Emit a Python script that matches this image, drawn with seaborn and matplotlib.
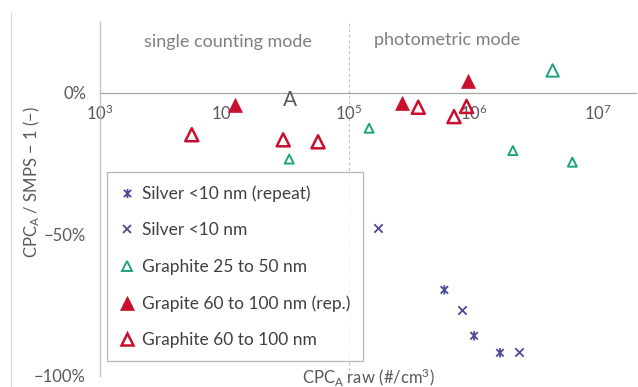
import numpy as np
import pandas as pd
import seaborn as sns
import matplotlib
matplotlib.use("Agg")
import matplotlib.pyplot as plt
from matplotlib.path import Path
from matplotlib.lines import Line2D
from matplotlib.ticker import FixedLocator, LogLocator, NullFormatter

# ---- data: raw CPC_A concentration (#/cm3) and relative deviation CPC_A/SMPS - 1
silver_rep_x = [5.83e5, 1.01e6, 1.63e6]
silver_rep_y = [-0.696, -0.858, -0.918]

silver_x = [1.70e5, 8.13e5, 2.32e6]
silver_y = [-0.478, -0.767, -0.916]

graphite_small_x = [3.31e4, 1.45e5, 2.07e6, 4.32e6, 6.22e6]
graphite_small_y = [-0.234, -0.125, -0.204, 0.079, -0.245]
graphite_small_s = [42, 42, 42, 80, 42]

graphite_large_rep_x = [1.21e4, 2.65e5, 9.08e5]
graphite_large_rep_y = [-0.042, -0.036, 0.040]

graphite_large_x = [5.46e3, 2.96e4, 5.64e4, 3.60e5, 6.97e5, 8.80e5]
graphite_large_y = [-0.148, -0.166, -0.173, -0.051, -0.084, -0.048]

series_labels = ["Silver <10 nm (repeat)", "Silver <10 nm", "Graphite 25 to 50 nm",
                 "Grapite 60 to 100 nm (rep.)", "Graphite 60 to 100 nm"]

y_major = [0.0, -0.5, -1.0]
y_major_labels = ["0%", "\u221250%", "\u2212100%"]

mode_labels = ["single counting mode", "photometric mode"]

# ---- styling
sns.set_theme(style="white")
plt.rcParams["font.family"] = ["Lato", "DejaVu Sans"]
plt.rcParams["mathtext.fontset"] = "custom"
plt.rcParams["mathtext.rm"] = "Lato"
plt.rcParams["mathtext.it"] = "Lato:italic"

GRAY_TXT = "#595959"
AXIS_GRAY = "#A6A6A6"
SILVER = "#4B4B98"
GREEN = "#1FA37A"
RED = "#C8102E"

# asterisk-like marker: an x crossed by a vertical stroke
star_path = Path(
    [(-1, -1), (1, 1), (-1, 1), (1, -1), (0, -1.25), (0, 1.25)],
    [Path.MOVETO, Path.LINETO, Path.MOVETO, Path.LINETO, Path.MOVETO, Path.LINETO],
)

fig = plt.figure(figsize=(6.38, 3.87), dpi=100)
ax = fig.add_axes([100 / 638, 11 / 387, 536 / 638, 354 / 387])

ax.axvline(1e5, color="#BFBFBF", lw=0.8, ls=(0, (2.5, 2.5)), zorder=0)

sns.scatterplot(x=silver_rep_x, y=silver_rep_y, marker=star_path, s=45,
                facecolor="none", edgecolor=SILVER, linewidth=1.3, ax=ax, zorder=3)
sns.scatterplot(x=silver_x, y=silver_y, marker="x", s=36,
                color=SILVER, linewidth=1.3, ax=ax, zorder=3)
sns.scatterplot(x=graphite_small_x, y=graphite_small_y, marker="^", s=graphite_small_s,
                facecolor="none", edgecolor=GREEN, linewidth=1.4, ax=ax, zorder=3)
sns.scatterplot(x=graphite_large_rep_x, y=graphite_large_rep_y, marker="^", s=100,
                color=RED, edgecolor=RED, linewidth=0.5, ax=ax, zorder=3)
sns.scatterplot(x=graphite_large_x, y=graphite_large_y, marker="^", s=88,
                facecolor="none", edgecolor=RED, linewidth=1.8, ax=ax, zorder=3)

ax.set_xscale("log")
ax.set_xlim(1e3, 10 ** 7.305)
ax.set_ylim(-1.0, 0.25)

for side in ["top", "right"]:
    ax.spines[side].set_visible(False)
ax.spines["bottom"].set_position(("data", 0))
ax.spines["bottom"].set_color(AXIS_GRAY)
ax.spines["left"].set_color("#BFBFBF")
for sp in ax.spines.values():
    sp.set_linewidth(0.9)

ax.xaxis.set_major_locator(LogLocator(base=10, numticks=10))
ax.xaxis.set_minor_locator(LogLocator(base=10, subs=np.arange(2, 10), numticks=20))
ax.xaxis.set_minor_formatter(NullFormatter())
ax.yaxis.set_major_locator(FixedLocator(y_major))
ax.set_yticklabels(y_major_labels)
ax.yaxis.set_minor_locator(FixedLocator(np.round(np.arange(-1.0, 0.25, 0.1), 2)))

ax.tick_params(axis="x", which="major", direction="inout", length=10, width=0.9,
               color=AXIS_GRAY, labelsize=12, labelcolor=GRAY_TXT, pad=3)
ax.tick_params(axis="x", which="minor", direction="inout", length=6, width=0.8,
               color=AXIS_GRAY)
ax.tick_params(axis="y", which="major", direction="inout", length=10, width=0.9,
               color="#BFBFBF", labelsize=12, labelcolor=GRAY_TXT, pad=5)
ax.tick_params(axis="y", which="minor", direction="inout", length=8, width=0.8,
               color="#D0D0D0")

ax.set_ylabel("CPC$_\\mathrm{A}$ / SMPS \u2212 1 (\u2212)", fontsize=12, color=GRAY_TXT)
ax.yaxis.set_label_coords(-0.128, 0.548)
ax.yaxis.label.set_va("center")
ax.set_xlabel(r"CPC$_\mathrm{A}$ raw (#/cm$^\mathrm{3}$)", fontsize=12, color=GRAY_TXT)
ax.xaxis.set_label_coords(0.5, -0.004)
ax.xaxis.label.set_va("center")

ax.text(0.239, 0.943, mode_labels[0], transform=ax.transAxes, ha="center", va="center",
        fontsize=13, color="#7F7F7F")
ax.text(0.647, 0.949, mode_labels[1], transform=ax.transAxes, ha="center", va="center",
        fontsize=13, color="#7F7F7F")
ax.text(0.354, 0.78, "A", transform=ax.transAxes, ha="center", va="center",
        fontsize=15, color="#595959")

handles = [
    Line2D([], [], ls="none", marker=star_path, ms=6.5, mfc="none", mec=SILVER, mew=1.3),
    Line2D([], [], ls="none", marker="x", ms=5.5, mec=SILVER, mew=1.3),
    Line2D([], [], ls="none", marker="^", ms=6.5, mfc="none", mec=GREEN, mew=1.4),
    Line2D([], [], ls="none", marker="^", ms=10, mfc=RED, mec=RED, mew=0.5),
    Line2D([], [], ls="none", marker="^", ms=9, mfc="none", mec=RED, mew=1.8),
]
leg = ax.legend(handles, series_labels, loc="lower left", bbox_to_anchor=(0.013, 0.042),
                borderaxespad=0, frameon=True, fancybox=False, fontsize=12.5,
                labelspacing=1.18, handlelength=0.8, handletextpad=0.45,
                borderpad=0.75, labelcolor="#404040")
leg.get_frame().set_edgecolor("#A6A6A6")
leg.get_frame().set_linewidth(0.9)
leg.set_zorder(5)

fig.add_artist(Line2D([11 / 638, 11 / 638], [0, 1 - 12 / 387], color="#D9D9D9", lw=0.8))

fig.savefig("out.png", dpi=100)
